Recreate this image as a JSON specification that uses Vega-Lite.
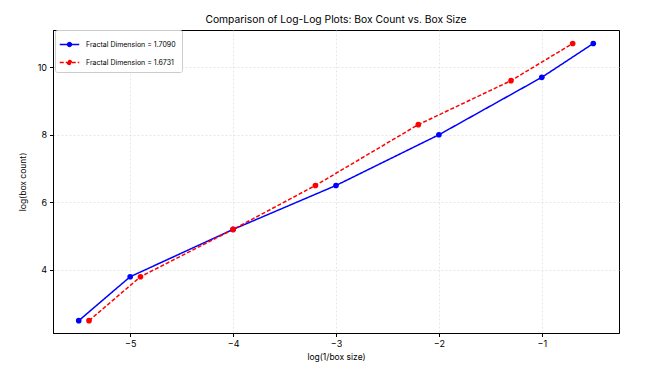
{
  "$schema": "https://vega.github.io/schema/vega-lite/v6.json",
  "autosize": {"type": "none"},
  "width": 566,
  "height": 303,
  "padding": {"left": 53, "top": 30, "right": 37, "bottom": 33},
  "background": "white",
  "title": {"text": "Comparison of Log-Log Plots: Box Count vs. Box Size", "font": "Inter", "fontSize": 10.3, "fontWeight": "normal", "color": "#000", "offset": 4},
  "config": {
    "view": {"stroke": "#000", "strokeWidth": 1},
    "font": "Inter",
    "axis": {"labelFont": "Inter", "titleFont": "Inter", "labelColor": "#000", "titleColor": "#000", "labelFontSize": 9, "titleFontSize": 8.5, "titleFontWeight": "normal", "domainColor": "#000", "tickColor": "#000", "tickSize": 3.5, "gridColor": "#dddddd", "gridDash": [2, 2], "gridWidth": 0.7}
  },
  "data": {"values": [
    {"series": "Fractal Dimension  = 1.7090", "x": -5.5, "y": 2.5},
    {"series": "Fractal Dimension  = 1.7090", "x": -5.0, "y": 3.8},
    {"series": "Fractal Dimension  = 1.7090", "x": -4.0, "y": 5.2},
    {"series": "Fractal Dimension  = 1.7090", "x": -3.0, "y": 6.5},
    {"series": "Fractal Dimension  = 1.7090", "x": -2.0, "y": 8.0},
    {"series": "Fractal Dimension  = 1.7090", "x": -1.0, "y": 9.7},
    {"series": "Fractal Dimension  = 1.7090", "x": -0.5, "y": 10.7},
    {"series": "Fractal Dimension  = 1.6731", "x": -5.4, "y": 2.5},
    {"series": "Fractal Dimension  = 1.6731", "x": -4.9, "y": 3.8},
    {"series": "Fractal Dimension  = 1.6731", "x": -4.0, "y": 5.2},
    {"series": "Fractal Dimension  = 1.6731", "x": -3.2, "y": 6.5},
    {"series": "Fractal Dimension  = 1.6731", "x": -2.2, "y": 8.3},
    {"series": "Fractal Dimension  = 1.6731", "x": -1.3, "y": 9.6},
    {"series": "Fractal Dimension  = 1.6731", "x": -0.7, "y": 10.7}
  ]},
  "mark": {"type": "line", "strokeWidth": 1.5, "point": {"filled": true, "size": 32}},
  "encoding": {
    "x": {"field": "x", "type": "quantitative", "title": "log(1/box size)", "scale": {"domain": [-5.75, -0.25], "nice": false, "zero": false}, "axis": {"values": [-5, -4, -3, -2, -1], "titlePadding": 4, "labelPadding": 3}},
    "y": {"field": "y", "type": "quantitative", "title": "log(box count)", "scale": {"domain": [2.135, 11.1], "nice": false, "zero": false}, "axis": {"values": [4, 6, 8, 10], "titlePadding": 10, "labelPadding": 3}},
    "color": {"field": "series", "type": "nominal", "sort": null,
      "scale": {"domain": ["Fractal Dimension  = 1.7090", "Fractal Dimension  = 1.6731"], "range": ["#0000ff", "#ff0000"]},
      "legend": {"title": null, "orient": "none", "legendX": 2, "legendY": 0, "labelFont": "Inter", "labelFontSize": 7, "labelColor": "#000", "labelOffset": 6,
        "symbolType": "M-1,0L1,0M-0.2,0A0.2,0.2,0,1,0,0.2,0A0.2,0.2,0,1,0,-0.2,0",
        "symbolSize": 380, "symbolStrokeWidth": 1.5, "rowPadding": 2, "padding": 4, "strokeColor": "#cccccc", "fillColor": "white", "cornerRadius": 2,
        "encode": {"symbols": {"update": {"fill": {"scale": "color", "field": "value"}}}}}},
    "strokeDash": {"field": "series", "type": "nominal", "sort": null,
      "scale": {"domain": ["Fractal Dimension  = 1.7090", "Fractal Dimension  = 1.6731"], "range": [[1, 0], [4, 2]]},
      "legend": {"title": null}}
  }
}
